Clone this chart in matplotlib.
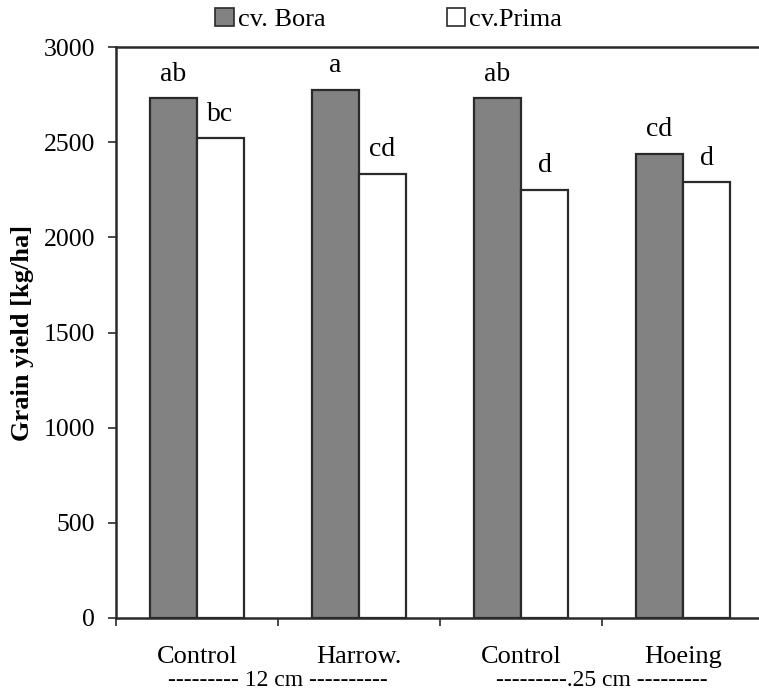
import matplotlib
matplotlib.use("Agg")
import matplotlib.pyplot as plt
import numpy as np
from matplotlib.patches import Patch
from matplotlib.ticker import FixedLocator

plt.rcParams['font.family'] = ['Liberation Serif', 'DejaVu Serif']

categories = ["Control", "Harrow.", "Control", "Hoeing"]
groups = ["--------- 12 cm ----------", "---------.25 cm ---------"]
series_names = ["cv. Bora", "cv.Prima"]
bora = [2730, 2775, 2730, 2440]
prima = [2520, 2335, 2250, 2290]
bora_letters = ["ab", "a", "ab", "cd"]
prima_letters = ["bc", "cd", "d", "d"]
yticks = [0, 500, 1000, 1500, 2000, 2500, 3000]

fig = plt.figure(figsize=(7.59, 6.92), dpi=100)
ax = fig.add_axes([116/759, 74/692, 648/759, 571/692])

x = np.arange(len(categories))
w = 0.29
edge = "#2a2a2a"
gray = "#828282"
ax.bar(x - w/2, bora, w, color=gray, edgecolor=edge, linewidth=1.6, label=series_names[0])
ax.bar(x + w/2, prima, w, color="white", edgecolor=edge, linewidth=1.6, label=series_names[1])

for xi, v, t in zip(x - w/2, bora, bora_letters):
    ax.text(xi, v + 60, t, ha="center", va="bottom", fontsize=20)
for xi, v, t in zip(x + w/2, prima, prima_letters):
    ax.text(xi, v + 60, t, ha="center", va="bottom", fontsize=20)

ax.set_xlim(-0.5, 3.5)
ax.set_ylim(0, 3000)
ax.set_yticks(yticks)
ax.set_yticklabels([str(t) for t in yticks], fontsize=18.5)
ax.set_xticks(x)
ax.set_xticklabels(categories, fontsize=19)
ax.xaxis.set_minor_locator(FixedLocator([-0.5, 0.5, 1.5, 2.5]))
ax.tick_params(axis="x", which="major", length=0, pad=20)
ax.tick_params(axis="x", which="minor", length=6, width=1.2, direction="out", color=edge)
ax.tick_params(axis="y", length=6, width=1.2, direction="out", color=edge, pad=9)

for s in ["left", "bottom", "top"]:
    ax.spines[s].set_linewidth(1.8)
    ax.spines[s].set_color(edge)
ax.spines["right"].set_visible(False)

ax.set_ylabel("Grain yield [kg/ha]", fontsize=19, fontweight="bold")
ax.yaxis.set_label_coords(-0.126, 0.5)

for i, g in enumerate(groups):
    fig.text((116 + 162 * (2 * i + 1)) / 759, 1/692, g,
             ha="center", va="bottom", fontsize=17)

handles = [Patch(facecolor=gray, edgecolor=edge, linewidth=1.2),
           Patch(facecolor="white", edgecolor=edge, linewidth=1.2)]
fig.legend(handles, series_names, loc="center", bbox_to_anchor=(0.512, 0.972),
           ncol=2, frameon=False, fontsize=19, handlelength=0.7, handleheight=0.7,
           handletextpad=0.15, columnspacing=4.6, borderpad=0)

fig.savefig("out.png", dpi=100)
